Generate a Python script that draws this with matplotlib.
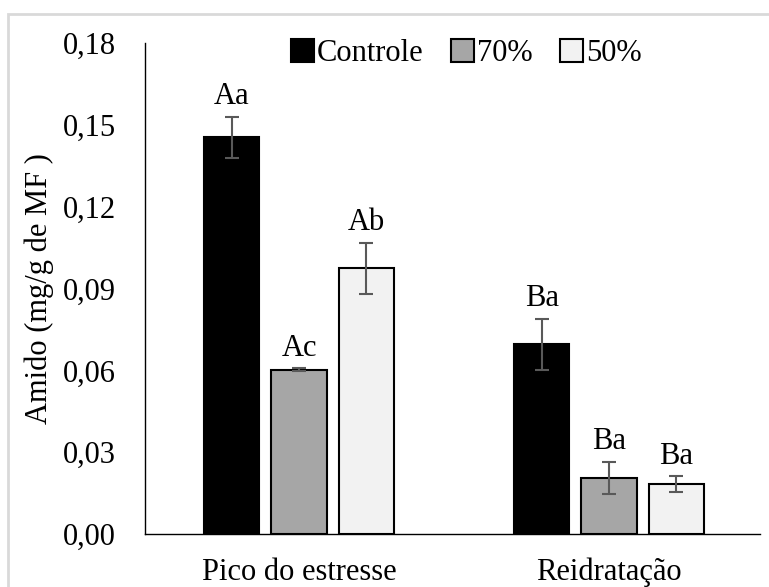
import numpy as np
import matplotlib.pyplot as plt
from matplotlib.patches import Rectangle

plt.rcParams['font.family'] = ['Liberation Serif', 'DejaVu Serif']

categories = ['Pico do estresse', 'Reidratação']
series = ['Controle', '70%', '50%']
controle = [0.1455, 0.0696]
p70 = [0.0602, 0.0205]
p50 = [0.0974, 0.0183]
err_controle = [0.0075, 0.0093]
err_p70 = [0.0005, 0.0060]
err_p50 = [0.0093, 0.0029]
letters_controle = ['Aa', 'Ba']
letters_p70 = ['Ac', 'Ba']
letters_p50 = ['Ab', 'Ba']
yticks = [0.00, 0.03, 0.06, 0.09, 0.12, 0.15, 0.18]

colors = ['#000000', '#a6a6a6', '#f2f2f2']
fs = 22

fig = plt.figure(figsize=(7.69, 5.87), dpi=100)
# light gray chart border (only top/left visible in the reference)
fig.patches.append(Rectangle((8 / 769, -0.1), 1.2, (587 - 14) / 587 + 0.1,
                             transform=fig.transFigure, fill=False,
                             edgecolor='#d9d9d9', linewidth=2))
ax = fig.add_axes([0.1886, 0.0903, 0.7997, 0.8364])

x = np.arange(len(categories))
width = 0.178
step = 0.217
vals = [controle, p70, p50]
errs = [err_controle, err_p70, err_p50]
letters = [letters_controle, letters_p70, letters_p50]

for i in range(3):
    xs = x + (i - 1) * step
    ax.bar(xs, vals[i], width, color=colors[i], edgecolor='black',
           linewidth=1.5, label=series[i], zorder=2)
    ax.errorbar(xs, vals[i], yerr=errs[i], fmt='none', ecolor='#595959',
                elinewidth=1.5, capsize=5, capthick=1.5, zorder=3)
    for j in range(len(xs)):
        ax.annotate(letters[i][j], (xs[j], vals[i][j] + errs[i][j]),
                    xytext=(0, 4), textcoords='offset points',
                    ha='center', va='bottom', fontsize=fs)

ax.set_xlim(-0.497, 1.487)
ax.set_ylim(0, 0.18)
ax.set_yticks(yticks)
ax.set_yticklabels([('%.2f' % t).replace('.', ',') for t in yticks])
ax.set_xticks(x)
ax.set_xticklabels(categories, fontsize=fs)
ax.tick_params(axis='y', length=0, pad=21, labelsize=fs)
ax.tick_params(axis='x', length=0, pad=17)
for s in ['top', 'right']:
    ax.spines[s].set_visible(False)
ax.spines['left'].set_linewidth(1.0)
ax.spines['bottom'].set_linewidth(1.0)
ax.set_ylabel('Amido (mg/g de MF )', fontsize=fs, labelpad=6)

ax.legend(loc='upper center', bbox_to_anchor=(0.522, 1.033), ncol=3,
          frameon=False, fontsize=fs, handlelength=0.75, handleheight=0.75,
          handletextpad=0.1, columnspacing=0.9, borderaxespad=0)

fig.savefig('out.png', dpi=100)
